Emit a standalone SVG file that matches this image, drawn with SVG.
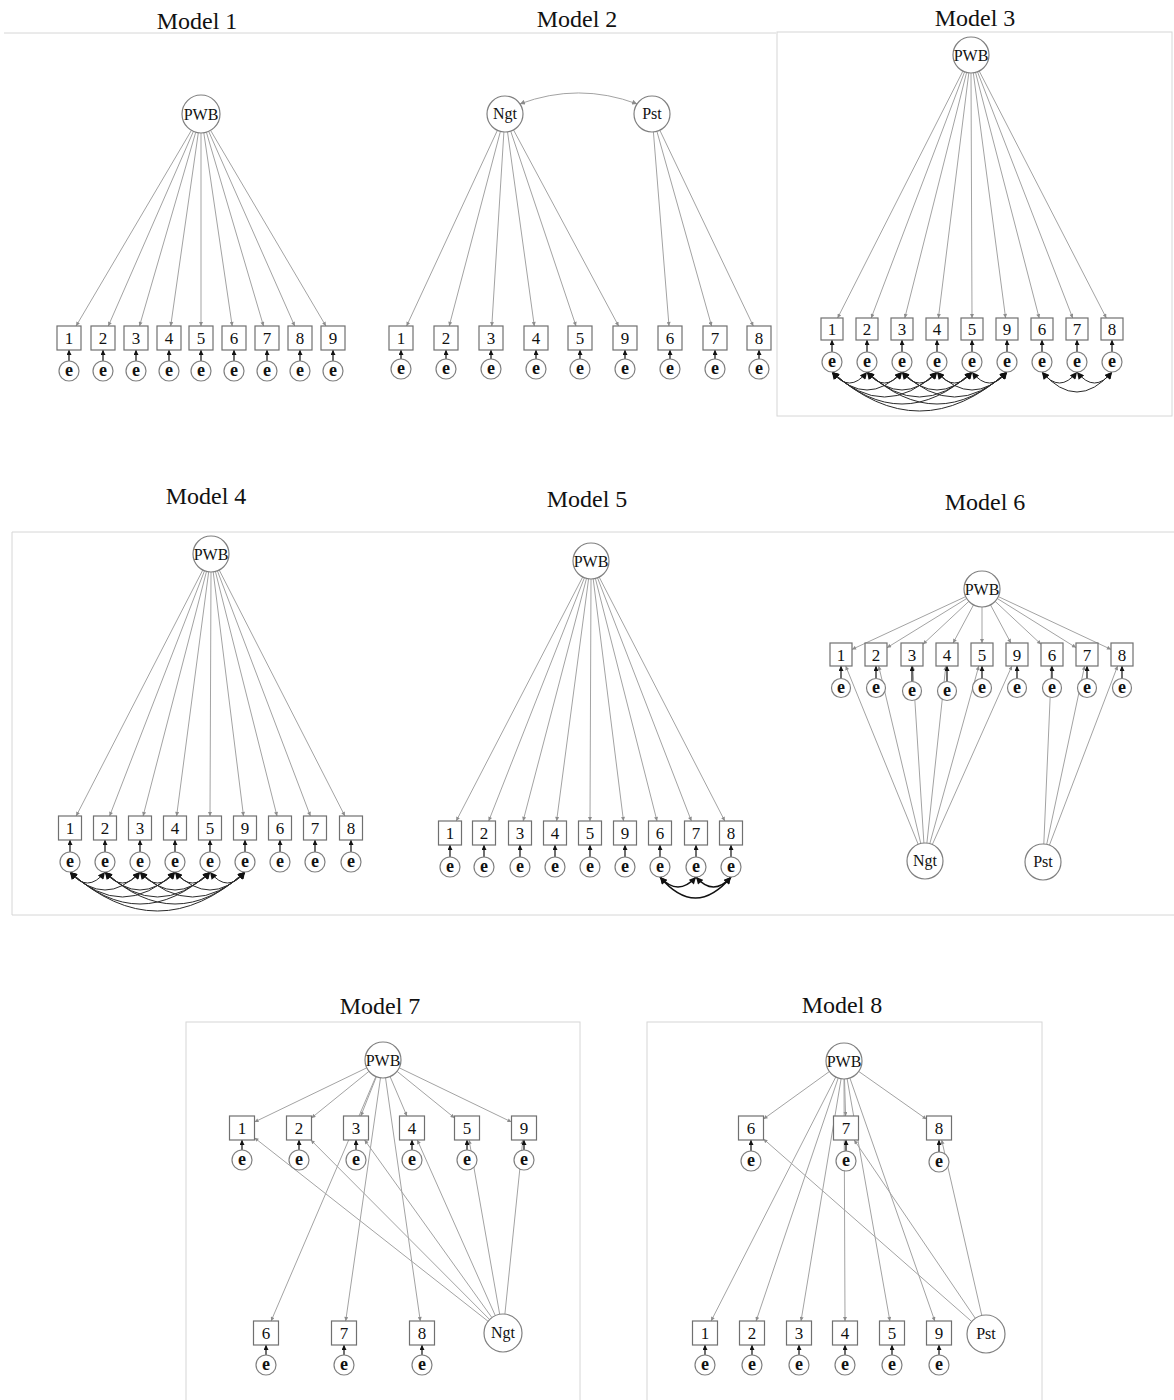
<svg xmlns="http://www.w3.org/2000/svg" width="1174" height="1400" viewBox="0 0 1174 1400">
<defs>
<marker id="ag" viewBox="0 0 10 10" refX="10" refY="5" markerWidth="5" markerHeight="4" markerUnits="userSpaceOnUse" orient="auto"><path d="M0,0L10,5L0,10z" fill="#8c8c8c"/></marker>
<marker id="ab" viewBox="0 0 10 10" refX="10" refY="5" markerWidth="5" markerHeight="5" markerUnits="userSpaceOnUse" orient="auto"><path d="M0,0L10,5L0,10z" fill="#111"/></marker>
<marker id="ac" viewBox="0 0 10 10" refX="10" refY="5" markerWidth="8" markerHeight="7" markerUnits="userSpaceOnUse" orient="auto-start-reverse"><path d="M0,0L10,5L0,10z" fill="#111"/></marker>
<marker id="acg" viewBox="0 0 10 10" refX="10" refY="5" markerWidth="6" markerHeight="5" markerUnits="userSpaceOnUse" orient="auto-start-reverse"><path d="M0,0L10,5L0,10z" fill="#8c8c8c"/></marker>
</defs>
<style>
.ttl{font-family:"Liberation Serif","Times New Roman",serif;font-size:24px;text-anchor:middle;fill:#111}
.pan{fill:none;stroke:#d6d6d6;stroke-width:1}
.ld{fill:none;stroke:#a3a3a3;stroke-width:1;marker-end:url(#ag)}
.ea{fill:none;stroke:#111;stroke-width:1.2;marker-end:url(#ab)}
.cv{fill:none;stroke:#2a2a2a;stroke-width:1;marker-start:url(#ac);marker-end:url(#ac)}
.cv2{fill:none;stroke:#111;stroke-width:1.6;marker-start:url(#ac);marker-end:url(#ac)}
.cvg{fill:none;stroke:#a3a3a3;stroke-width:1;marker-start:url(#acg);marker-end:url(#acg)}
.lv circle{fill:#fff;stroke:#808080;stroke-width:1.2}
.lv text{font-family:"Liberation Serif","Times New Roman",serif;font-size:16px;text-anchor:middle;fill:#111}
.ob rect{fill:#fff;stroke:#707070;stroke-width:1.2}
.ob text{font-family:"Liberation Serif","Times New Roman",serif;font-size:17px;text-anchor:middle;fill:#111}
.er circle{fill:#fff;stroke:#808080;stroke-width:1.2}
.er text{font-family:"Liberation Serif","Times New Roman",serif;font-size:18px;font-weight:bold;text-anchor:middle;fill:#111}
</style>
<rect width="1174" height="1400" fill="#fff"/>

<g id="panels">
<line class="pan" x1="4" y1="33" x2="776" y2="33"/>
<rect class="pan" x="777" y="32" width="395" height="384"/>
<path class="pan" d="M1174,532H12V915H1174"/>
<rect class="pan" x="186" y="1022" width="394" height="390"/>
<rect class="pan" x="647" y="1022" width="395" height="390"/>
</g>

<g id="titles">
<text class="ttl" x="197" y="29">Model 1</text>
<text class="ttl" x="577" y="27">Model 2</text>
<text class="ttl" x="975" y="26">Model 3</text>
<text class="ttl" x="206" y="504">Model 4</text>
<text class="ttl" x="587" y="507">Model 5</text>
<text class="ttl" x="985" y="510">Model 6</text>
<text class="ttl" x="380" y="1014">Model 7</text>
<text class="ttl" x="842" y="1013">Model 8</text>
</g>

<g id="connectors">
<!-- Model 1 -->
<path class="ld" d="M191.4,130.4L76.1,326"/>
<path class="ld" d="M193.4,131.4L108.3,326"/>
<path class="ld" d="M195.7,132.3L139.5,326"/>
<path class="ld" d="M198.3,132.8L170.7,326"/>
<path class="ld" d="M201,133L201,326"/>
<path class="ld" d="M203.8,132.8L232.2,326"/>
<path class="ld" d="M206.4,132.2L263.5,326"/>
<path class="ld" d="M208.7,131.4L294.7,326"/>
<path class="ld" d="M210.6,130.4L325.9,326"/>
<path class="ea" d="M69,361V350"/><path class="ea" d="M103,361V350"/><path class="ea" d="M136,361V350"/><path class="ea" d="M169,361V350"/><path class="ea" d="M201,361V350"/><path class="ea" d="M234,361V350"/><path class="ea" d="M267,361V350"/><path class="ea" d="M300,361V350"/><path class="ea" d="M333,361V350"/>
<!-- Model 2 -->
<path class="cvg" d="M519.9,103.9Q578.5,82 637.1,103.9"/>
<path class="ld" d="M497.4,130.3L406.6,326"/>
<path class="ld" d="M500.4,131.4L449.2,326"/>
<path class="ld" d="M503.9,132L491.8,326"/>
<path class="ld" d="M507.5,131.8L534.3,326"/>
<path class="ld" d="M510.7,131.1L576,326"/>
<path class="ld" d="M513.5,129.9L618.6,326"/>
<path class="ld" d="M653.4,131.9L669,326"/>
<path class="ld" d="M656.9,131.3L711.6,326"/>
<path class="ld" d="M659.8,130.2L753.3,326"/>
<path class="ea" d="M401,359V350"/><path class="ea" d="M446,359V350"/><path class="ea" d="M491,359V350"/><path class="ea" d="M536,359V350"/><path class="ea" d="M580,359V350"/><path class="ea" d="M625,359V350"/><path class="ea" d="M670,359V350"/><path class="ea" d="M715,359V350"/><path class="ea" d="M759,359V350"/>
<!-- Model 3 -->
<path class="ld" d="M962.9,71.1L837.6,318"/>
<path class="ld" d="M964.6,71.8L871.2,318"/>
<path class="ld" d="M966.6,72.5L904.8,318"/>
<path class="ld" d="M968.8,72.9L938.4,318"/>
<path class="ld" d="M971,73L972,318"/>
<path class="ld" d="M973.3,72.8L1005.6,318"/>
<path class="ld" d="M975.5,72.4L1039.2,318"/>
<path class="ld" d="M977.5,71.8L1072.7,318"/>
<path class="ld" d="M979.2,71L1106.3,318"/>
<path class="ea" d="M832,352V340"/><path class="ea" d="M867,352V340"/><path class="ea" d="M902,352V340"/><path class="ea" d="M937,352V340"/><path class="ea" d="M972,352V340"/><path class="ea" d="M1007,352V340"/><path class="ea" d="M1042,352V340"/><path class="ea" d="M1077,352V340"/><path class="ea" d="M1112,352V340"/>
<path class="cv" d="M832,372Q849.5,394 867,372"/>
<path class="cv" d="M867,372Q884.5,394 902,372"/>
<path class="cv" d="M902,372Q919.5,394 937,372"/>
<path class="cv" d="M937,372Q954.5,394 972,372"/>
<path class="cv" d="M972,372Q989.5,394 1007,372"/>
<path class="cv" d="M832,372Q867,408 902,372"/>
<path class="cv" d="M867,372Q902,408 937,372"/>
<path class="cv" d="M902,372Q937,408 972,372"/>
<path class="cv" d="M937,372Q972,408 1007,372"/>
<path class="cv" d="M832,372Q884.5,422 937,372"/>
<path class="cv" d="M867,372Q919.5,422 972,372"/>
<path class="cv" d="M902,372Q954.5,422 1007,372"/>
<path class="cv" d="M832,372Q902,436 972,372"/>
<path class="cv" d="M867,372Q937,436 1007,372"/>
<path class="cv" d="M832,372Q919.5,450 1007,372"/>
<path class="cv" d="M1042,372Q1059.5,394 1077,372"/>
<path class="cv" d="M1077,372Q1094.5,394 1112,372"/>
<path class="cv" d="M1042,372Q1077,412 1112,372"/>
<!-- Model 4 -->
<path class="ld" d="M202.8,570L76.2,816"/>
<path class="ld" d="M204.5,570.8L109.6,816"/>
<path class="ld" d="M206.5,571.4L143.1,816"/>
<path class="ld" d="M208.7,571.8L176.6,816"/>
<path class="ld" d="M211,572L210,816"/>
<path class="ld" d="M213.2,571.9L243.5,816"/>
<path class="ld" d="M215.4,571.5L277,816"/>
<path class="ld" d="M217.4,570.8L310.4,816"/>
<path class="ld" d="M219.2,570L344.9,816"/>
<path class="ea" d="M70,852V840"/><path class="ea" d="M105,852V840"/><path class="ea" d="M140,852V840"/><path class="ea" d="M175,852V840"/><path class="ea" d="M210,852V840"/><path class="ea" d="M245,852V840"/><path class="ea" d="M280,852V840"/><path class="ea" d="M315,852V840"/><path class="ea" d="M351,852V840"/>
<path class="cv" d="M70,872Q87.5,894 105,872"/>
<path class="cv" d="M105,872Q122.5,894 140,872"/>
<path class="cv" d="M140,872Q157.5,894 175,872"/>
<path class="cv" d="M175,872Q192.5,894 210,872"/>
<path class="cv" d="M210,872Q227.5,894 245,872"/>
<path class="cv" d="M70,872Q105,908 140,872"/>
<path class="cv" d="M105,872Q140,908 175,872"/>
<path class="cv" d="M140,872Q175,908 210,872"/>
<path class="cv" d="M175,872Q210,908 245,872"/>
<path class="cv" d="M70,872Q122.5,922 175,872"/>
<path class="cv" d="M105,872Q157.5,922 210,872"/>
<path class="cv" d="M140,872Q192.5,922 245,872"/>
<path class="cv" d="M70,872Q140,936 210,872"/>
<path class="cv" d="M105,872Q175,936 245,872"/>
<path class="cv" d="M70,872Q157.5,950 245,872"/>
<!-- Model 5 -->
<path class="ld" d="M582.7,577L456.2,821"/>
<path class="ld" d="M584.4,577.8L488.7,821"/>
<path class="ld" d="M586.5,578.4L523.1,821"/>
<path class="ld" d="M588.6,578.8L556.6,821"/>
<path class="ld" d="M591,579L590,821"/>
<path class="ld" d="M593.2,578.9L623.5,821"/>
<path class="ld" d="M595.4,578.5L657,821"/>
<path class="ld" d="M597.5,577.8L691.4,821"/>
<path class="ld" d="M599.2,577.1L724.8,821"/>
<path class="ea" d="M450,857V845"/><path class="ea" d="M484,857V845"/><path class="ea" d="M520,857V845"/><path class="ea" d="M555,857V845"/><path class="ea" d="M590,857V845"/><path class="ea" d="M625,857V845"/><path class="ea" d="M660,857V845"/><path class="ea" d="M696,857V845"/><path class="ea" d="M731,857V845"/>
<path class="cv2" d="M660,877Q678,897 696,877"/>
<path class="cv2" d="M696,877Q713.5,897 731,877"/>
<path class="cv2" d="M660,877Q695.5,919 731,877"/>
<!-- Model 6 -->
<path class="ld" d="M965.7,596.6L852,649.4"/>
<path class="ld" d="M966.7,598.5L887,647.7"/>
<path class="ld" d="M968.9,601.3L923,644.2"/>
<path class="ld" d="M973.5,604.9L953.1,643"/>
<path class="ld" d="M982,607L982,643"/>
<path class="ld" d="M990.5,604.9L1010.9,643"/>
<path class="ld" d="M995.1,601.3L1041,644.2"/>
<path class="ld" d="M997.3,598.5L1076,647.6"/>
<path class="ld" d="M998.3,596.6L1111,649.4"/>
<path class="ld" d="M918.2,844.3L845.7,666"/>
<path class="ld" d="M920.8,843.5L878.7,666"/>
<path class="ld" d="M923.9,843L912.7,666"/>
<path class="ld" d="M926.9,843.1L945.8,666"/>
<path class="ld" d="M929.8,843.6L978.8,666"/>
<path class="ld" d="M932.3,844.6L1011.9,666"/>
<path class="ld" d="M1043.8,844L1051.5,666"/>
<path class="ld" d="M1046.7,844.4L1084.6,666"/>
<path class="ld" d="M1049.4,845.2L1117.6,666"/>
<path class="ea" d="M841,678.5V666"/><path class="ea" d="M876,678.5V666"/><path class="ea" d="M912,681.5V666"/><path class="ea" d="M947,681.5V666"/><path class="ea" d="M982,678.5V666"/><path class="ea" d="M1017,678.5V666"/><path class="ea" d="M1052,678.5V666"/><path class="ea" d="M1087,678.5V666"/><path class="ea" d="M1122,678.5V666"/>
<!-- Model 7 -->
<path class="ld" d="M366.8,1067.8L254.5,1122"/>
<path class="ld" d="M369,1071.3L311.5,1117.9"/>
<path class="ld" d="M376.4,1076.7L360.8,1116"/>
<path class="ld" d="M390.1,1076.6L406.9,1116"/>
<path class="ld" d="M397,1071.3L454.5,1117.9"/>
<path class="ld" d="M399.2,1067.8L511.5,1122"/>
<path class="ld" d="M375.9,1076.5L271.1,1321"/>
<path class="ld" d="M380.5,1077.8L345.7,1321"/>
<path class="ld" d="M385.5,1077.8L420.3,1321"/>
<path class="ld" d="M488.1,1321.3L254.5,1137.8"/>
<path class="ld" d="M489.6,1319.5L310.9,1140"/>
<path class="ld" d="M491.9,1317.6L364.6,1140"/>
<path class="ld" d="M495.3,1315.6L417.3,1140"/>
<path class="ld" d="M499.7,1314.3L469.1,1140"/>
<path class="ld" d="M504.9,1314.1L522.8,1140"/>
<path class="ea" d="M242,1150V1140"/><path class="ea" d="M299,1150V1140"/><path class="ea" d="M356,1150V1140"/><path class="ea" d="M412,1150V1140"/><path class="ea" d="M467,1150V1140"/><path class="ea" d="M524,1150V1140"/><path class="ea" d="M266,1355V1345"/><path class="ea" d="M344,1355V1345"/><path class="ea" d="M422,1355V1345"/>
<!-- Model 8 -->
<path class="ld" d="M829.4,1071.5L763.5,1119"/>
<path class="ld" d="M844.5,1079L845.6,1116"/>
<path class="ld" d="M858.7,1071.4L926.5,1119.2"/>
<path class="ld" d="M835.8,1077L711.1,1321"/>
<path class="ld" d="M838.2,1078.1L756.1,1321"/>
<path class="ld" d="M841.1,1078.8L801,1321"/>
<path class="ld" d="M844,1079L845,1321"/>
<path class="ld" d="M847.1,1078.7L889.9,1321"/>
<path class="ld" d="M849.9,1078.1L934.8,1321"/>
<path class="ld" d="M971.7,1321.5L763.5,1139"/>
<path class="ld" d="M975.3,1318.3L854.2,1140"/>
<path class="ld" d="M981.8,1315.5L941.7,1140"/>
<path class="ea" d="M751,1151V1140"/><path class="ea" d="M846,1151V1140"/><path class="ea" d="M939,1152V1140"/><path class="ea" d="M705,1355V1345"/><path class="ea" d="M752,1355V1345"/><path class="ea" d="M799,1355V1345"/><path class="ea" d="M845,1355V1345"/><path class="ea" d="M892,1355V1345"/><path class="ea" d="M939,1355V1345"/>
</g>

<!-- ================= Model 1 nodes ================= -->
<g id="m1-PWB" class="lv" transform="translate(201,114)"><circle r="19"/><text y="5.5">PWB</text></g>
<g id="m1-x1" class="ob" transform="translate(69,338)"><rect x="-12" y="-12" width="24" height="24"/><text y="6">1</text></g>
<g id="m1-x2" class="ob" transform="translate(103,338)"><rect x="-12" y="-12" width="24" height="24"/><text y="6">2</text></g>
<g id="m1-x3" class="ob" transform="translate(136,338)"><rect x="-12" y="-12" width="24" height="24"/><text y="6">3</text></g>
<g id="m1-x4" class="ob" transform="translate(169,338)"><rect x="-12" y="-12" width="24" height="24"/><text y="6">4</text></g>
<g id="m1-x5" class="ob" transform="translate(201,338)"><rect x="-12" y="-12" width="24" height="24"/><text y="6">5</text></g>
<g id="m1-x6" class="ob" transform="translate(234,338)"><rect x="-12" y="-12" width="24" height="24"/><text y="6">6</text></g>
<g id="m1-x7" class="ob" transform="translate(267,338)"><rect x="-12" y="-12" width="24" height="24"/><text y="6">7</text></g>
<g id="m1-x8" class="ob" transform="translate(300,338)"><rect x="-12" y="-12" width="24" height="24"/><text y="6">8</text></g>
<g id="m1-x9" class="ob" transform="translate(333,338)"><rect x="-12" y="-12" width="24" height="24"/><text y="6">9</text></g>
<g id="m1-e1" class="er" transform="translate(69,371)"><circle r="10"/><text y="4.5">e</text></g>
<g id="m1-e2" class="er" transform="translate(103,371)"><circle r="10"/><text y="4.5">e</text></g>
<g id="m1-e3" class="er" transform="translate(136,371)"><circle r="10"/><text y="4.5">e</text></g>
<g id="m1-e4" class="er" transform="translate(169,371)"><circle r="10"/><text y="4.5">e</text></g>
<g id="m1-e5" class="er" transform="translate(201,371)"><circle r="10"/><text y="4.5">e</text></g>
<g id="m1-e6" class="er" transform="translate(234,371)"><circle r="10"/><text y="4.5">e</text></g>
<g id="m1-e7" class="er" transform="translate(267,371)"><circle r="10"/><text y="4.5">e</text></g>
<g id="m1-e8" class="er" transform="translate(300,371)"><circle r="10"/><text y="4.5">e</text></g>
<g id="m1-e9" class="er" transform="translate(333,371)"><circle r="10"/><text y="4.5">e</text></g>

<!-- ================= Model 2 nodes ================= -->
<g id="m2-Ngt" class="lv" transform="translate(505,114)"><circle r="18"/><text y="5">Ngt</text></g>
<g id="m2-Pst" class="lv" transform="translate(652,114)"><circle r="18"/><text y="5">Pst</text></g>
<g id="m2-x1" class="ob" transform="translate(401,338)"><rect x="-12" y="-12" width="24" height="24"/><text y="6">1</text></g>
<g id="m2-x2" class="ob" transform="translate(446,338)"><rect x="-12" y="-12" width="24" height="24"/><text y="6">2</text></g>
<g id="m2-x3" class="ob" transform="translate(491,338)"><rect x="-12" y="-12" width="24" height="24"/><text y="6">3</text></g>
<g id="m2-x4" class="ob" transform="translate(536,338)"><rect x="-12" y="-12" width="24" height="24"/><text y="6">4</text></g>
<g id="m2-x5" class="ob" transform="translate(580,338)"><rect x="-12" y="-12" width="24" height="24"/><text y="6">5</text></g>
<g id="m2-x9" class="ob" transform="translate(625,338)"><rect x="-12" y="-12" width="24" height="24"/><text y="6">9</text></g>
<g id="m2-x6" class="ob" transform="translate(670,338)"><rect x="-12" y="-12" width="24" height="24"/><text y="6">6</text></g>
<g id="m2-x7" class="ob" transform="translate(715,338)"><rect x="-12" y="-12" width="24" height="24"/><text y="6">7</text></g>
<g id="m2-x8" class="ob" transform="translate(759,338)"><rect x="-12" y="-12" width="24" height="24"/><text y="6">8</text></g>
<g id="m2-e1" class="er" transform="translate(401,369)"><circle r="10"/><text y="4.5">e</text></g>
<g id="m2-e2" class="er" transform="translate(446,369)"><circle r="10"/><text y="4.5">e</text></g>
<g id="m2-e3" class="er" transform="translate(491,369)"><circle r="10"/><text y="4.5">e</text></g>
<g id="m2-e4" class="er" transform="translate(536,369)"><circle r="10"/><text y="4.5">e</text></g>
<g id="m2-e5" class="er" transform="translate(580,369)"><circle r="10"/><text y="4.5">e</text></g>
<g id="m2-e9" class="er" transform="translate(625,369)"><circle r="10"/><text y="4.5">e</text></g>
<g id="m2-e6" class="er" transform="translate(670,369)"><circle r="10"/><text y="4.5">e</text></g>
<g id="m2-e7" class="er" transform="translate(715,369)"><circle r="10"/><text y="4.5">e</text></g>
<g id="m2-e8" class="er" transform="translate(759,369)"><circle r="10"/><text y="4.5">e</text></g>

<!-- ================= Model 3 nodes ================= -->
<g id="m3-PWB" class="lv" transform="translate(971,55)"><circle r="18"/><text y="5.5">PWB</text></g>
<g id="m3-x1" class="ob" transform="translate(832,329)"><rect x="-11" y="-11" width="22" height="22"/><text y="6">1</text></g>
<g id="m3-x2" class="ob" transform="translate(867,329)"><rect x="-11" y="-11" width="22" height="22"/><text y="6">2</text></g>
<g id="m3-x3" class="ob" transform="translate(902,329)"><rect x="-11" y="-11" width="22" height="22"/><text y="6">3</text></g>
<g id="m3-x4" class="ob" transform="translate(937,329)"><rect x="-11" y="-11" width="22" height="22"/><text y="6">4</text></g>
<g id="m3-x5" class="ob" transform="translate(972,329)"><rect x="-11" y="-11" width="22" height="22"/><text y="6">5</text></g>
<g id="m3-x9" class="ob" transform="translate(1007,329)"><rect x="-11" y="-11" width="22" height="22"/><text y="6">9</text></g>
<g id="m3-x6" class="ob" transform="translate(1042,329)"><rect x="-11" y="-11" width="22" height="22"/><text y="6">6</text></g>
<g id="m3-x7" class="ob" transform="translate(1077,329)"><rect x="-11" y="-11" width="22" height="22"/><text y="6">7</text></g>
<g id="m3-x8" class="ob" transform="translate(1112,329)"><rect x="-11" y="-11" width="22" height="22"/><text y="6">8</text></g>
<g id="m3-e1" class="er" transform="translate(832,362)"><circle r="10"/><text y="4.5">e</text></g>
<g id="m3-e2" class="er" transform="translate(867,362)"><circle r="10"/><text y="4.5">e</text></g>
<g id="m3-e3" class="er" transform="translate(902,362)"><circle r="10"/><text y="4.5">e</text></g>
<g id="m3-e4" class="er" transform="translate(937,362)"><circle r="10"/><text y="4.5">e</text></g>
<g id="m3-e5" class="er" transform="translate(972,362)"><circle r="10"/><text y="4.5">e</text></g>
<g id="m3-e9" class="er" transform="translate(1007,362)"><circle r="10"/><text y="4.5">e</text></g>
<g id="m3-e6" class="er" transform="translate(1042,362)"><circle r="10"/><text y="4.5">e</text></g>
<g id="m3-e7" class="er" transform="translate(1077,362)"><circle r="10"/><text y="4.5">e</text></g>
<g id="m3-e8" class="er" transform="translate(1112,362)"><circle r="10"/><text y="4.5">e</text></g>

<!-- ================= Model 4 nodes ================= -->
<g id="m4-PWB" class="lv" transform="translate(211,554)"><circle r="18"/><text y="5.5">PWB</text></g>
<g id="m4-x1" class="ob" transform="translate(70,828)"><rect x="-11.5" y="-12" width="23" height="24"/><text y="6">1</text></g>
<g id="m4-x2" class="ob" transform="translate(105,828)"><rect x="-11.5" y="-12" width="23" height="24"/><text y="6">2</text></g>
<g id="m4-x3" class="ob" transform="translate(140,828)"><rect x="-11.5" y="-12" width="23" height="24"/><text y="6">3</text></g>
<g id="m4-x4" class="ob" transform="translate(175,828)"><rect x="-11.5" y="-12" width="23" height="24"/><text y="6">4</text></g>
<g id="m4-x5" class="ob" transform="translate(210,828)"><rect x="-11.5" y="-12" width="23" height="24"/><text y="6">5</text></g>
<g id="m4-x9" class="ob" transform="translate(245,828)"><rect x="-11.5" y="-12" width="23" height="24"/><text y="6">9</text></g>
<g id="m4-x6" class="ob" transform="translate(280,828)"><rect x="-11.5" y="-12" width="23" height="24"/><text y="6">6</text></g>
<g id="m4-x7" class="ob" transform="translate(315,828)"><rect x="-11.5" y="-12" width="23" height="24"/><text y="6">7</text></g>
<g id="m4-x8" class="ob" transform="translate(351,828)"><rect x="-11.5" y="-12" width="23" height="24"/><text y="6">8</text></g>
<g id="m4-e1" class="er" transform="translate(70,862)"><circle r="10"/><text y="4.5">e</text></g>
<g id="m4-e2" class="er" transform="translate(105,862)"><circle r="10"/><text y="4.5">e</text></g>
<g id="m4-e3" class="er" transform="translate(140,862)"><circle r="10"/><text y="4.5">e</text></g>
<g id="m4-e4" class="er" transform="translate(175,862)"><circle r="10"/><text y="4.5">e</text></g>
<g id="m4-e5" class="er" transform="translate(210,862)"><circle r="10"/><text y="4.5">e</text></g>
<g id="m4-e9" class="er" transform="translate(245,862)"><circle r="10"/><text y="4.5">e</text></g>
<g id="m4-e6" class="er" transform="translate(280,862)"><circle r="10"/><text y="4.5">e</text></g>
<g id="m4-e7" class="er" transform="translate(315,862)"><circle r="10"/><text y="4.5">e</text></g>
<g id="m4-e8" class="er" transform="translate(351,862)"><circle r="10"/><text y="4.5">e</text></g>

<!-- ================= Model 5 nodes ================= -->
<g id="m5-PWB" class="lv" transform="translate(591,561)"><circle r="18"/><text y="5.5">PWB</text></g>
<g id="m5-x1" class="ob" transform="translate(450,833)"><rect x="-11.5" y="-12" width="23" height="24"/><text y="6">1</text></g>
<g id="m5-x2" class="ob" transform="translate(484,833)"><rect x="-11.5" y="-12" width="23" height="24"/><text y="6">2</text></g>
<g id="m5-x3" class="ob" transform="translate(520,833)"><rect x="-11.5" y="-12" width="23" height="24"/><text y="6">3</text></g>
<g id="m5-x4" class="ob" transform="translate(555,833)"><rect x="-11.5" y="-12" width="23" height="24"/><text y="6">4</text></g>
<g id="m5-x5" class="ob" transform="translate(590,833)"><rect x="-11.5" y="-12" width="23" height="24"/><text y="6">5</text></g>
<g id="m5-x9" class="ob" transform="translate(625,833)"><rect x="-11.5" y="-12" width="23" height="24"/><text y="6">9</text></g>
<g id="m5-x6" class="ob" transform="translate(660,833)"><rect x="-11.5" y="-12" width="23" height="24"/><text y="6">6</text></g>
<g id="m5-x7" class="ob" transform="translate(696,833)"><rect x="-11.5" y="-12" width="23" height="24"/><text y="6">7</text></g>
<g id="m5-x8" class="ob" transform="translate(731,833)"><rect x="-11.5" y="-12" width="23" height="24"/><text y="6">8</text></g>
<g id="m5-e1" class="er" transform="translate(450,867)"><circle r="10"/><text y="4.5">e</text></g>
<g id="m5-e2" class="er" transform="translate(484,867)"><circle r="10"/><text y="4.5">e</text></g>
<g id="m5-e3" class="er" transform="translate(520,867)"><circle r="10"/><text y="4.5">e</text></g>
<g id="m5-e4" class="er" transform="translate(555,867)"><circle r="10"/><text y="4.5">e</text></g>
<g id="m5-e5" class="er" transform="translate(590,867)"><circle r="10"/><text y="4.5">e</text></g>
<g id="m5-e9" class="er" transform="translate(625,867)"><circle r="10"/><text y="4.5">e</text></g>
<g id="m5-e6" class="er" transform="translate(660,867)"><circle r="10"/><text y="4.5">e</text></g>
<g id="m5-e7" class="er" transform="translate(696,867)"><circle r="10"/><text y="4.5">e</text></g>
<g id="m5-e8" class="er" transform="translate(731,867)"><circle r="10"/><text y="4.5">e</text></g>

<!-- ================= Model 6 nodes ================= -->
<g id="m6-PWB" class="lv" transform="translate(982,589)"><circle r="18"/><text y="5.5">PWB</text></g>
<g id="m6-Ngt" class="lv" transform="translate(925,861)"><circle r="18"/><text y="5">Ngt</text></g>
<g id="m6-Pst" class="lv" transform="translate(1043,862)"><circle r="18"/><text y="5">Pst</text></g>
<g id="m6-x1" class="ob" transform="translate(841,654.5)"><rect x="-11" y="-11.5" width="22" height="23"/><text y="6">1</text></g>
<g id="m6-x2" class="ob" transform="translate(876,654.5)"><rect x="-11" y="-11.5" width="22" height="23"/><text y="6">2</text></g>
<g id="m6-x3" class="ob" transform="translate(912,654.5)"><rect x="-11" y="-11.5" width="22" height="23"/><text y="6">3</text></g>
<g id="m6-x4" class="ob" transform="translate(947,654.5)"><rect x="-11" y="-11.5" width="22" height="23"/><text y="6">4</text></g>
<g id="m6-x5" class="ob" transform="translate(982,654.5)"><rect x="-11" y="-11.5" width="22" height="23"/><text y="6">5</text></g>
<g id="m6-x9" class="ob" transform="translate(1017,654.5)"><rect x="-11" y="-11.5" width="22" height="23"/><text y="6">9</text></g>
<g id="m6-x6" class="ob" transform="translate(1052,654.5)"><rect x="-11" y="-11.5" width="22" height="23"/><text y="6">6</text></g>
<g id="m6-x7" class="ob" transform="translate(1087,654.5)"><rect x="-11" y="-11.5" width="22" height="23"/><text y="6">7</text></g>
<g id="m6-x8" class="ob" transform="translate(1122,654.5)"><rect x="-11" y="-11.5" width="22" height="23"/><text y="6">8</text></g>
<g id="m6-e1" class="er" transform="translate(841,688)"><circle r="9.5"/><text y="4.5">e</text></g>
<g id="m6-e2" class="er" transform="translate(876,688)"><circle r="9.5"/><text y="4.5">e</text></g>
<g id="m6-e3" class="er" transform="translate(912,691)"><circle r="9.5"/><text y="4.5">e</text></g>
<g id="m6-e4" class="er" transform="translate(947,691)"><circle r="9.5"/><text y="4.5">e</text></g>
<g id="m6-e5" class="er" transform="translate(982,688)"><circle r="9.5"/><text y="4.5">e</text></g>
<g id="m6-e9" class="er" transform="translate(1017,688)"><circle r="9.5"/><text y="4.5">e</text></g>
<g id="m6-e6" class="er" transform="translate(1052,688)"><circle r="9.5"/><text y="4.5">e</text></g>
<g id="m6-e7" class="er" transform="translate(1087,688)"><circle r="9.5"/><text y="4.5">e</text></g>
<g id="m6-e8" class="er" transform="translate(1122,688)"><circle r="9.5"/><text y="4.5">e</text></g>

<!-- ================= Model 7 nodes ================= -->
<g id="m7-PWB" class="lv" transform="translate(383,1060)"><circle r="18"/><text y="5.5">PWB</text></g>
<g id="m7-Ngt" class="lv" transform="translate(503,1333)"><circle r="19"/><text y="5">Ngt</text></g>
<g id="m7-x1" class="ob" transform="translate(242,1128)"><rect x="-12.5" y="-12" width="25" height="24"/><text y="6">1</text></g>
<g id="m7-x2" class="ob" transform="translate(299,1128)"><rect x="-12.5" y="-12" width="25" height="24"/><text y="6">2</text></g>
<g id="m7-x3" class="ob" transform="translate(356,1128)"><rect x="-12.5" y="-12" width="25" height="24"/><text y="6">3</text></g>
<g id="m7-x4" class="ob" transform="translate(412,1128)"><rect x="-12.5" y="-12" width="25" height="24"/><text y="6">4</text></g>
<g id="m7-x5" class="ob" transform="translate(467,1128)"><rect x="-12.5" y="-12" width="25" height="24"/><text y="6">5</text></g>
<g id="m7-x9" class="ob" transform="translate(524,1128)"><rect x="-12.5" y="-12" width="25" height="24"/><text y="6">9</text></g>
<g id="m7-x6" class="ob" transform="translate(266,1333)"><rect x="-12.5" y="-12" width="25" height="24"/><text y="6">6</text></g>
<g id="m7-x7" class="ob" transform="translate(344,1333)"><rect x="-12.5" y="-12" width="25" height="24"/><text y="6">7</text></g>
<g id="m7-x8" class="ob" transform="translate(422,1333)"><rect x="-12.5" y="-12" width="25" height="24"/><text y="6">8</text></g>
<g id="m7-e1" class="er" transform="translate(242,1160)"><circle r="10"/><text y="4.5">e</text></g>
<g id="m7-e2" class="er" transform="translate(299,1160)"><circle r="10"/><text y="4.5">e</text></g>
<g id="m7-e3" class="er" transform="translate(356,1160)"><circle r="10"/><text y="4.5">e</text></g>
<g id="m7-e4" class="er" transform="translate(412,1160)"><circle r="10"/><text y="4.5">e</text></g>
<g id="m7-e5" class="er" transform="translate(467,1160)"><circle r="10"/><text y="4.5">e</text></g>
<g id="m7-e9" class="er" transform="translate(524,1160)"><circle r="10"/><text y="4.5">e</text></g>
<g id="m7-e6" class="er" transform="translate(266,1365)"><circle r="10"/><text y="4.5">e</text></g>
<g id="m7-e7" class="er" transform="translate(344,1365)"><circle r="10"/><text y="4.5">e</text></g>
<g id="m7-e8" class="er" transform="translate(422,1365)"><circle r="10"/><text y="4.5">e</text></g>

<!-- ================= Model 8 nodes ================= -->
<g id="m8-PWB" class="lv" transform="translate(844,1061)"><circle r="18"/><text y="5.5">PWB</text></g>
<g id="m8-Pst" class="lv" transform="translate(986,1334)"><circle r="19"/><text y="5">Pst</text></g>
<g id="m8-x6" class="ob" transform="translate(751,1128)"><rect x="-12.5" y="-12" width="25" height="24"/><text y="6">6</text></g>
<g id="m8-x7" class="ob" transform="translate(846,1128)"><rect x="-12.5" y="-12" width="25" height="24"/><text y="6">7</text></g>
<g id="m8-x8" class="ob" transform="translate(939,1128)"><rect x="-12.5" y="-12" width="25" height="24"/><text y="6">8</text></g>
<g id="m8-x1" class="ob" transform="translate(705,1333)"><rect x="-12.5" y="-12" width="25" height="24"/><text y="6">1</text></g>
<g id="m8-x2" class="ob" transform="translate(752,1333)"><rect x="-12.5" y="-12" width="25" height="24"/><text y="6">2</text></g>
<g id="m8-x3" class="ob" transform="translate(799,1333)"><rect x="-12.5" y="-12" width="25" height="24"/><text y="6">3</text></g>
<g id="m8-x4" class="ob" transform="translate(845,1333)"><rect x="-12.5" y="-12" width="25" height="24"/><text y="6">4</text></g>
<g id="m8-x5" class="ob" transform="translate(892,1333)"><rect x="-12.5" y="-12" width="25" height="24"/><text y="6">5</text></g>
<g id="m8-x9" class="ob" transform="translate(939,1333)"><rect x="-12.5" y="-12" width="25" height="24"/><text y="6">9</text></g>
<g id="m8-e6" class="er" transform="translate(751,1161)"><circle r="10"/><text y="4.5">e</text></g>
<g id="m8-e7" class="er" transform="translate(846,1161)"><circle r="10"/><text y="4.5">e</text></g>
<g id="m8-e8" class="er" transform="translate(939,1162)"><circle r="10"/><text y="4.5">e</text></g>
<g id="m8-e1" class="er" transform="translate(705,1365)"><circle r="10"/><text y="4.5">e</text></g>
<g id="m8-e2" class="er" transform="translate(752,1365)"><circle r="10"/><text y="4.5">e</text></g>
<g id="m8-e3" class="er" transform="translate(799,1365)"><circle r="10"/><text y="4.5">e</text></g>
<g id="m8-e4" class="er" transform="translate(845,1365)"><circle r="10"/><text y="4.5">e</text></g>
<g id="m8-e5" class="er" transform="translate(892,1365)"><circle r="10"/><text y="4.5">e</text></g>
<g id="m8-e9" class="er" transform="translate(939,1365)"><circle r="10"/><text y="4.5">e</text></g>
</svg>
